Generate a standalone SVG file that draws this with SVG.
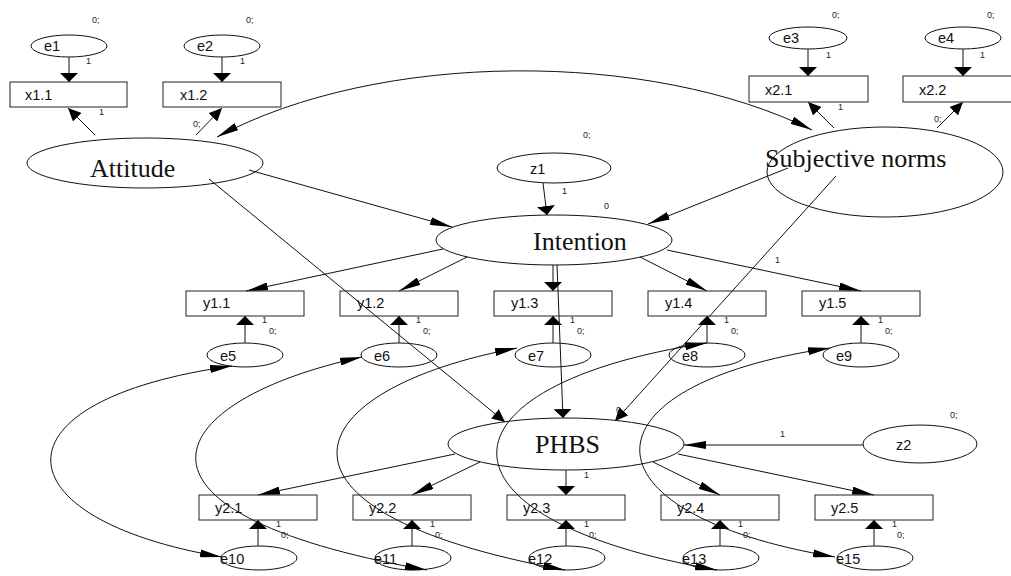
<svg xmlns="http://www.w3.org/2000/svg" width="1011" height="576" viewBox="0 0 1011 576">
<style>
.bg{fill:#fff}
.box{fill:none;stroke:#222;stroke-width:1}
.ell{fill:none;stroke:#111;stroke-width:1}
.lat{fill:none;stroke:#111;stroke-width:1}
.lbl{font-family:"Liberation Sans",Arial,sans-serif;font-size:14.5px;fill:#111}
.big{font-family:"Liberation Serif","Times New Roman",serif;font-size:26px;fill:#111}
.sm{font-family:"Liberation Sans",Arial,sans-serif;font-size:9px;fill:#222}
.ln{fill:none;stroke:#111;stroke-width:1}
.lv{marker-end:url(#av)}
.lh{marker-end:url(#ah)}
.ld{marker-end:url(#ad)}
.cv{fill:none;stroke:#111;stroke-width:1;marker-start:url(#ah);marker-end:url(#ah)}
</style>
<defs>
<marker id="av" viewBox="0 0 9 18" refX="9" refY="9" markerWidth="9" markerHeight="18" markerUnits="userSpaceOnUse" orient="auto"><path d="M0,0 L9,9 L0,18 Z" fill="#000"/></marker>
<marker id="ah" viewBox="0 0 22 8" refX="22" refY="4" markerWidth="22" markerHeight="8" markerUnits="userSpaceOnUse" orient="auto-start-reverse"><path d="M0,0 L22,4 L0,8 Z" fill="#000"/></marker>
<marker id="ad" viewBox="0 0 13 12" refX="13" refY="6" markerWidth="13" markerHeight="12" markerUnits="userSpaceOnUse" orient="auto"><path d="M0,0 L13,6 L0,12 Z" fill="#000"/></marker>
</defs>
<rect class="bg" x="0" y="0" width="1011" height="576"/>

<g id="connectors">
<line class="ln lv" x1="69" y1="57" x2="69" y2="82"/>
<line class="ln lv" x1="222" y1="57" x2="222" y2="82"/>
<line class="ln lv" x1="808" y1="49" x2="808" y2="76"/>
<line class="ln lv" x1="963" y1="49" x2="963" y2="76"/>
<line class="ln ld" x1="95" y1="135" x2="68" y2="108"/>
<line class="ln ld" x1="196" y1="135" x2="222" y2="108"/>
<line class="ln ld" x1="834" y1="128" x2="808" y2="102"/>
<line class="ln ld" x1="937" y1="128" x2="963" y2="102"/>
<path class="cv" d="M217,137 C380,50 650,50 812,130"/>
<line class="ln lv" x1="543" y1="183" x2="547" y2="215"/>
<line class="ln lh" x1="249" y1="170" x2="452" y2="227"/>
<line class="ln lh" x1="788" y1="168" x2="648" y2="224"/>
<line class="ln ld" x1="209" y1="179" x2="505" y2="422"/>
<line class="ln ld" x1="836" y1="176" x2="615" y2="421"/>
<line class="ln lv" x1="557" y1="265" x2="563" y2="418"/>
<line class="ln lh" x1="863" y1="445" x2="684" y2="445"/>
<line class="ln lh" x1="443" y1="249" x2="246" y2="291"/>
<line class="ln lh" x1="467" y1="257" x2="399" y2="291"/>
<line class="ln lv" x1="553" y1="265" x2="553" y2="291"/>
<line class="ln lh" x1="640" y1="257" x2="707" y2="291"/>
<line class="ln lh" x1="667" y1="250" x2="861" y2="291"/>
<line class="ln lv" x1="245" y1="343" x2="245" y2="316"/>
<line class="ln lv" x1="399" y1="343" x2="399" y2="316"/>
<line class="ln lv" x1="553" y1="343" x2="553" y2="316"/>
<line class="ln lv" x1="707" y1="343" x2="707" y2="316"/>
<line class="ln lv" x1="861" y1="343" x2="861" y2="316"/>
<line class="ln lh" x1="455" y1="454" x2="258" y2="495"/>
<line class="ln lh" x1="480" y1="462" x2="412" y2="495"/>
<line class="ln lv" x1="566" y1="470" x2="566" y2="495"/>
<line class="ln lh" x1="653" y1="462" x2="720" y2="495"/>
<line class="ln lh" x1="678" y1="454" x2="874" y2="495"/>
<line class="ln lv" x1="258" y1="546" x2="258" y2="520"/>
<line class="ln lv" x1="412" y1="546" x2="412" y2="520"/>
<line class="ln lv" x1="566" y1="546" x2="566" y2="520"/>
<line class="ln lv" x1="720" y1="546" x2="720" y2="520"/>
<line class="ln lv" x1="874" y1="546" x2="874" y2="520"/>
<path class="cv" d="M232,366 C-13,400 -3,519 222,557"/>
<path class="cv" d="M362,357 C162,400 97,512 427,570"/>
<path class="cv" d="M517,348 C293,390 245,512 565,570"/>
<path class="cv" d="M707,343 C430,385 420,519 717,570"/>
<path class="cv" d="M830,348 C578,385 573,513 835,557"/>
</g>

<g id="x11"><rect class="box" x="10" y="82" width="117" height="25"/><text class="lbl" x="25" y="100">x1.1</text></g>
<g id="x12"><rect class="box" x="163" y="82" width="118" height="25"/><text class="lbl" x="180" y="100">x1.2</text></g>
<g id="x21"><rect class="box" x="749" y="76" width="119" height="26"/><text class="lbl" x="765" y="95">x2.1</text></g>
<g id="x22"><rect class="box" x="903" y="76" width="119" height="26"/><text class="lbl" x="919" y="95">x2.2</text></g>

<g id="e1"><ellipse class="ell" cx="69" cy="46" rx="38" ry="11"/><text class="lbl" x="44" y="51">e1</text></g>
<g id="e2"><ellipse class="ell" cx="222" cy="46" rx="38" ry="11"/><text class="lbl" x="197" y="51">e2</text></g>
<g id="e3"><ellipse class="ell" cx="808" cy="38" rx="39" ry="11"/><text class="lbl" x="783" y="43">e3</text></g>
<g id="e4"><ellipse class="ell" cx="963" cy="38" rx="38" ry="11"/><text class="lbl" x="938" y="43">e4</text></g>

<g id="attitude"><ellipse class="lat" cx="145" cy="163" rx="118" ry="25"/><text class="big" x="90" y="177">Attitude</text></g>
<g id="subjective"><ellipse class="lat" cx="885" cy="172" rx="118" ry="45"/><text class="big" x="765" y="167">Subjective norms</text></g>
<g id="z1"><ellipse class="ell" cx="554" cy="168" rx="57" ry="15"/><text class="lbl" x="530" y="174">z1</text></g>
<g id="intention"><ellipse class="lat" cx="554" cy="240" rx="118" ry="25"/><text class="big" x="533" y="250">Intention</text></g>

<g id="y11"><rect class="box" x="186" y="291" width="118" height="25"/><text class="lbl" x="203" y="308">y1.1</text></g>
<g id="y12"><rect class="box" x="340" y="291" width="118" height="25"/><text class="lbl" x="357" y="308">y1.2</text></g>
<g id="y13"><rect class="box" x="494" y="291" width="118" height="25"/><text class="lbl" x="511" y="308">y1.3</text></g>
<g id="y14"><rect class="box" x="648" y="291" width="118" height="25"/><text class="lbl" x="665" y="308">y1.4</text></g>
<g id="y15"><rect class="box" x="802" y="291" width="118" height="25"/><text class="lbl" x="819" y="308">y1.5</text></g>

<g id="e5"><ellipse class="ell" cx="245" cy="355" rx="38" ry="12"/><text class="lbl" x="220" y="361">e5</text></g>
<g id="e6"><ellipse class="ell" cx="399" cy="355" rx="38" ry="12"/><text class="lbl" x="374" y="361">e6</text></g>
<g id="e7"><ellipse class="ell" cx="553" cy="355" rx="38" ry="12"/><text class="lbl" x="528" y="361">e7</text></g>
<g id="e8"><ellipse class="ell" cx="707" cy="355" rx="38" ry="12"/><text class="lbl" x="682" y="361">e8</text></g>
<g id="e9"><ellipse class="ell" cx="861" cy="355" rx="38" ry="12"/><text class="lbl" x="836" y="361">e9</text></g>

<g id="phbs"><ellipse class="lat" cx="566" cy="444" rx="118" ry="26"/><text class="big" x="535" y="453">PHBS</text></g>
<g id="z2"><ellipse class="ell" cx="920" cy="444" rx="57" ry="19"/><text class="lbl" x="896" y="450">z2</text></g>

<g id="y21"><rect class="box" x="199" y="495" width="118" height="25"/><text class="lbl" x="215" y="513">y2.1</text></g>
<g id="y22"><rect class="box" x="353" y="495" width="118" height="25"/><text class="lbl" x="369" y="513">y2.2</text></g>
<g id="y23"><rect class="box" x="507" y="495" width="118" height="25"/><text class="lbl" x="523" y="513">y2.3</text></g>
<g id="y24"><rect class="box" x="661" y="495" width="118" height="25"/><text class="lbl" x="677" y="513">y2.4</text></g>
<g id="y25"><rect class="box" x="815" y="495" width="118" height="25"/><text class="lbl" x="831" y="513">y2.5</text></g>

<g id="e10"><ellipse class="ell" cx="259" cy="558" rx="38" ry="12"/><text class="lbl" x="220" y="564">e10</text></g>
<g id="e11"><ellipse class="ell" cx="413" cy="558" rx="38" ry="12"/><text class="lbl" x="374" y="564">e11</text></g>
<g id="e12"><ellipse class="ell" cx="567" cy="558" rx="38" ry="12"/><text class="lbl" x="528" y="564">e12</text></g>
<g id="e13"><ellipse class="ell" cx="721" cy="558" rx="38" ry="12"/><text class="lbl" x="682" y="564">e13</text></g>
<g id="e15"><ellipse class="ell" cx="875" cy="558" rx="38" ry="12"/><text class="lbl" x="836" y="564">e15</text></g>

<g id="params">
<text class="sm" x="92" y="23">0;</text><text class="sm" x="246" y="23">0;</text>
<text class="sm" x="86" y="64">1</text><text class="sm" x="240" y="64">1</text>
<text class="sm" x="99" y="115">1</text><text class="sm" x="193" y="127">0;</text>
<text class="sm" x="832" y="18">0;</text><text class="sm" x="987" y="18">0;</text>
<text class="sm" x="826" y="58">1</text><text class="sm" x="980" y="58">1</text>
<text class="sm" x="838" y="110">1</text><text class="sm" x="934" y="122">0;</text>
<text class="sm" x="583" y="138">0;</text><text class="sm" x="562" y="194">1</text>
<text class="sm" x="604" y="209">0</text><text class="sm" x="775" y="263">1</text>
<text class="sm" x="262" y="323">1</text><text class="sm" x="269" y="334">0;</text>
<text class="sm" x="416" y="323">1</text><text class="sm" x="423" y="334">0;</text>
<text class="sm" x="570" y="323">1</text><text class="sm" x="577" y="334">0;</text>
<text class="sm" x="724" y="323">1</text><text class="sm" x="731" y="334">0;</text>
<text class="sm" x="878" y="323">1</text><text class="sm" x="885" y="334">0;</text>
<text class="sm" x="616" y="413">0</text><text class="sm" x="950" y="418">0;</text>
<text class="sm" x="780" y="437">1</text><text class="sm" x="584" y="478">1</text>
<text class="sm" x="276" y="527">1</text><text class="sm" x="281" y="538">0;</text>
<text class="sm" x="430" y="527">1</text><text class="sm" x="435" y="538">0;</text>
<text class="sm" x="584" y="527">1</text><text class="sm" x="589" y="538">0;</text>
<text class="sm" x="738" y="527">1</text><text class="sm" x="743" y="538">0;</text>
<text class="sm" x="892" y="527">1</text><text class="sm" x="897" y="538">0;</text>
</g>
</svg>
